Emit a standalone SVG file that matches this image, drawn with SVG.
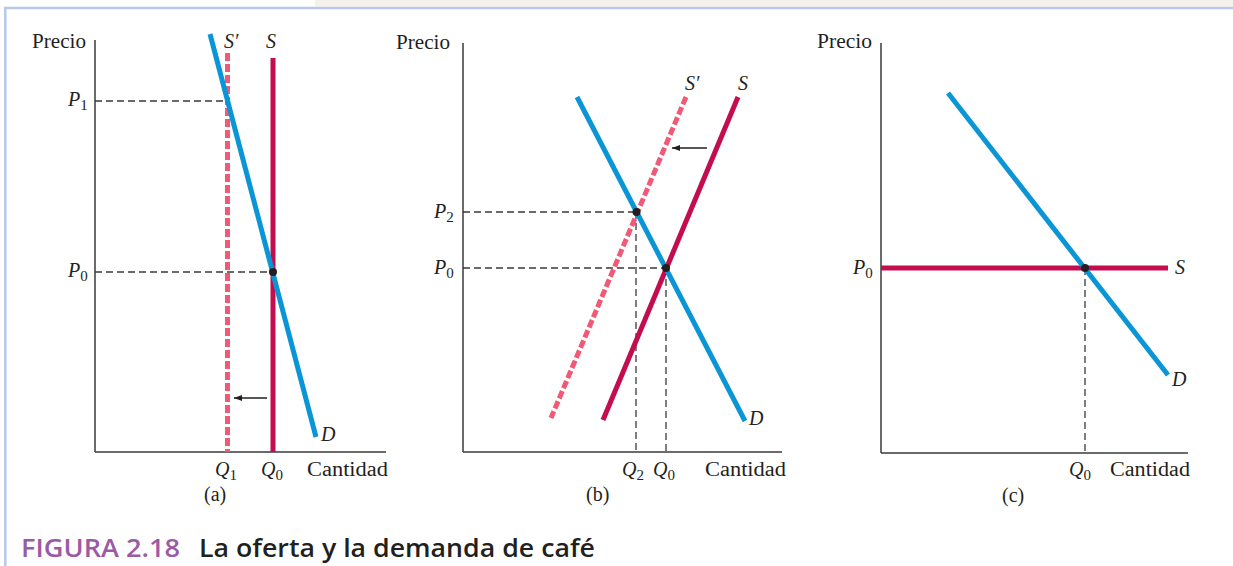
<svg xmlns="http://www.w3.org/2000/svg" width="1233" height="566" viewBox="0 0 1233 566">
<style>
.bg{fill:#ffffff}
.frame{stroke:#b9c9e9;stroke-width:2.6;fill:none}
.axis{stroke:#3a3a3a;stroke-width:1.5;fill:none}
.guide{stroke:#3a3a3a;stroke-width:1.3;stroke-dasharray:7 4;fill:none}
.dem{stroke:#0a96d6;stroke-width:5;fill:none}
.sup{stroke:#c40d4e;stroke-width:5;fill:none}
.supn{stroke:#f05a76;stroke-width:5;stroke-dasharray:8 3;fill:none}
.shift{stroke:#231f20;stroke-width:1.3;fill:none}
.dot{fill:#231f20}
.t{font-family:"Liberation Serif","Times New Roman",serif;font-size:20px;fill:#231f20}
.i{font-style:italic}
.sub{font-size:15px;font-style:normal}
.cap1{font-family:"Open Sans","Liberation Sans",sans-serif;font-size:25px;font-weight:600;fill:#9b5aa6}
.cap2{font-family:"Open Sans","Liberation Sans",sans-serif;font-size:25px;font-weight:600;fill:#231f20}
</style>
<defs>
<marker id="ah" markerUnits="userSpaceOnUse" markerWidth="9" markerHeight="7" refX="8" refY="3" orient="auto">
<path d="M0,0 L8,3 L0,6 Z" fill="#231f20"/>
</marker>
</defs>
<rect class="bg" x="0" y="0" width="1233" height="566"/>
<rect x="315" y="0" width="918" height="6.5" fill="#f5f2ec"/>
<g id="frame">
<line class="frame" x1="4" y1="8" x2="1233" y2="8"/>
<line class="frame" x1="5.3" y1="8" x2="5.3" y2="566"/>
</g>

<g id="panel-a">
<g id="a-axes">
<line class="axis" x1="95" y1="40" x2="95" y2="452"/>
<line class="axis" x1="95" y1="452" x2="386" y2="452"/>
</g>
<g id="a-guides">
<line class="guide" x1="95" y1="101" x2="227" y2="101"/>
<line class="guide" x1="95" y1="272" x2="273" y2="272"/>
</g>
<g id="a-Sprime"><line class="supn" x1="227.5" y1="53" x2="227.5" y2="452"/></g>
<g id="a-S"><line class="sup" x1="273" y1="58" x2="273" y2="452"/></g>
<g id="a-D"><line class="dem" x1="210" y1="34" x2="316" y2="437"/></g>
<g id="a-eq"><circle class="dot" cx="273" cy="272" r="4"/></g>
<g id="a-shift"><line class="shift" x1="267" y1="398" x2="234" y2="398" marker-end="url(#ah)"/></g>
<g id="a-labels">
<text class="t" x="32" y="48" textLength="54" lengthAdjust="spacingAndGlyphs">Precio</text>
<text class="t i" x="224" y="48">S′</text>
<text class="t i" x="266" y="48">S</text>
<text class="t" x="68" y="106"><tspan class="i">P</tspan><tspan class="sub" dy="4">1</tspan></text>
<text class="t" x="68" y="277"><tspan class="i">P</tspan><tspan class="sub" dy="4">0</tspan></text>
<text class="t i" x="321" y="441">D</text>
<text class="t" x="215" y="476"><tspan class="i">Q</tspan><tspan class="sub" dy="4">1</tspan></text>
<text class="t" x="261" y="476"><tspan class="i">Q</tspan><tspan class="sub" dy="4">0</tspan></text>
<text class="t" x="307" y="476" textLength="81" lengthAdjust="spacingAndGlyphs">Cantidad</text>
<text class="t" x="204" y="501">(a)</text>
</g>
</g>

<g id="panel-b">
<g id="b-axes">
<line class="axis" x1="463" y1="43" x2="463" y2="452"/>
<line class="axis" x1="463" y1="452" x2="782" y2="452"/>
</g>
<g id="b-guides">
<line class="guide" x1="463" y1="212" x2="636" y2="212"/>
<line class="guide" x1="636" y1="212" x2="636" y2="452"/>
<line class="guide" x1="463" y1="268" x2="666" y2="268"/>
<line class="guide" x1="666" y1="268" x2="666" y2="452"/>
</g>
<g id="b-Sprime"><line class="supn" x1="686" y1="97" x2="551" y2="418"/></g>
<g id="b-S"><line class="sup" x1="738" y1="97" x2="603" y2="420"/></g>
<g id="b-D"><line class="dem" x1="577" y1="97" x2="745" y2="421"/></g>
<g id="b-eq">
<circle class="dot" cx="636.5" cy="212" r="4"/>
<circle class="dot" cx="666" cy="268" r="4"/>
</g>
<g id="b-shift"><line class="shift" x1="707" y1="148" x2="672" y2="148" marker-end="url(#ah)"/></g>
<g id="b-labels">
<text class="t" x="396" y="49" textLength="54" lengthAdjust="spacingAndGlyphs">Precio</text>
<text class="t i" x="685" y="90">S′</text>
<text class="t i" x="738" y="90">S</text>
<text class="t" x="434" y="218"><tspan class="i">P</tspan><tspan class="sub" dy="4">2</tspan></text>
<text class="t" x="434" y="274"><tspan class="i">P</tspan><tspan class="sub" dy="4">0</tspan></text>
<text class="t i" x="749" y="425">D</text>
<text class="t" x="622" y="476"><tspan class="i">Q</tspan><tspan class="sub" dy="4">2</tspan></text>
<text class="t" x="653" y="476"><tspan class="i">Q</tspan><tspan class="sub" dy="4">0</tspan></text>
<text class="t" x="705" y="476" textLength="81" lengthAdjust="spacingAndGlyphs">Cantidad</text>
<text class="t" x="586" y="501">(b)</text>
</g>
</g>

<g id="panel-c">
<g id="c-axes">
<line class="axis" x1="881" y1="43" x2="881" y2="453"/>
<line class="axis" x1="881" y1="453" x2="1188" y2="453"/>
</g>
<g id="c-guides">
<line class="guide" x1="1085" y1="268" x2="1085" y2="453"/>
</g>
<g id="c-S"><line class="sup" x1="881" y1="268" x2="1168" y2="268"/></g>
<g id="c-D"><line class="dem" x1="948" y1="93" x2="1168" y2="375"/></g>
<g id="c-eq"><circle class="dot" cx="1085" cy="268" r="4"/></g>
<g id="c-labels">
<text class="t" x="817" y="48" textLength="55" lengthAdjust="spacingAndGlyphs">Precio</text>
<text class="t" x="853" y="274"><tspan class="i">P</tspan><tspan class="sub" dy="4">0</tspan></text>
<text class="t i" x="1175" y="274">S</text>
<text class="t i" x="1172" y="386">D</text>
<text class="t" x="1069" y="476"><tspan class="i">Q</tspan><tspan class="sub" dy="4">0</tspan></text>
<text class="t" x="1110" y="476" textLength="80" lengthAdjust="spacingAndGlyphs">Cantidad</text>
<text class="t" x="1002" y="502">(c)</text>
</g>
</g>

<g id="caption">
<text class="cap1" x="21" y="557" textLength="159" lengthAdjust="spacingAndGlyphs">FIGURA 2.18</text>
<text class="cap2" x="199" y="557" textLength="396" lengthAdjust="spacingAndGlyphs">La oferta y la demanda de café</text>
</g>
</svg>
